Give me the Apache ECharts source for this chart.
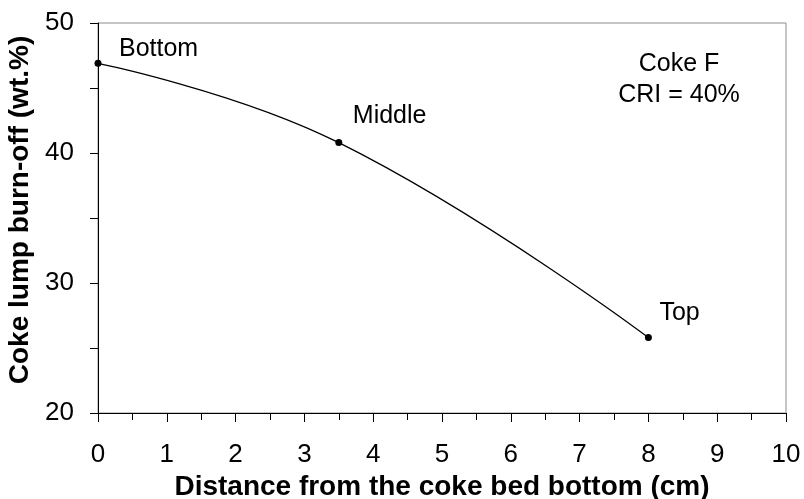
<!DOCTYPE html>
<html>
<head>
<meta charset="utf-8">
<script src="https://cdn.jsdelivr.net/npm/echarts@6/dist/echarts.min.js"></script>
<style>
  html, body { margin: 0; padding: 0; background: #fff; }
  #chart { width: 804px; height: 499px; }
</style>
</head>
<body>
<div id="chart"></div>
<script>
// Burn-off of coke lumps along the bed height
const distances = [0, 3.5, 8];            // cm from bed bottom
const burnOff = [46.9, 40.8, 25.8];       // wt.%
const positions = ['Bottom', 'Middle', 'Top'];
const xTicks = { min: 0, max: 10, interval: 1 };
const yTicks = { min: 20, max: 50, interval: 10 };
const noteLines = ['Coke F', 'CRI = 40%'];

const FONT = '"Liberation Sans", Arial, sans-serif';

// pixel offsets of each position label from its point
const labelOffsets = [[21, -14], [14, -26], [11, -24]];

const chart = echarts.init(document.getElementById('chart'), null, { renderer: 'canvas' });

chart.setOption({
  animation: false,
  backgroundColor: '#fff',
  grid: {
    left: 98, right: 18, top: 23, bottom: 86,
    outerBoundsMode: 'none',
    containLabel: false,
    show: true, borderColor: '#8c8c8c', borderWidth: 1, backgroundColor: 'transparent'
  },
  xAxis: {
    type: 'value',
    min: xTicks.min, max: xTicks.max, interval: xTicks.interval,
    name: 'Distance from the coke bed bottom (cm)',
    nameLocation: 'middle', nameGap: 60,
    nameTextStyle: { fontFamily: FONT, fontSize: 28, fontWeight: 'bold', color: '#000' },
    axisLine: { show: true, onZero: false, lineStyle: { color: '#000', width: 1 } },
    axisTick: { show: true, length: 9, lineStyle: { color: '#000' } },
    minorTick: { show: true, splitNumber: 2, length: 7, lineStyle: { color: '#000' } },
    splitLine: { show: false },
    axisLabel: { fontFamily: FONT, fontSize: 26, color: '#000', margin: 29 }
  },
  yAxis: {
    type: 'value',
    min: yTicks.min, max: yTicks.max, interval: yTicks.interval,
    name: 'Coke lump burn-off (wt.%)',
    nameLocation: 'middle', nameGap: 59, nameRotate: 90,
    nameTextStyle: { fontFamily: FONT, fontSize: 28, fontWeight: 'bold', color: '#000', padding: [0, 0, 0, 16] },
    axisLine: { show: true, onZero: false, lineStyle: { color: '#000', width: 1 } },
    axisTick: { show: true, length: 8, lineStyle: { color: '#000' } },
    minorTick: { show: true, splitNumber: 2, length: 8, lineStyle: { color: '#000' } },
    splitLine: { show: false },
    axisLabel: { fontFamily: FONT, fontSize: 26, color: '#000', margin: 24 }
  },
  series: [{
    type: 'line',
    smooth: 0.45,
    symbol: 'circle',
    symbolSize: 7,
    lineStyle: { color: '#000', width: 1.3 },
    itemStyle: { color: '#000' },
    data: distances.map((d, i) => ({
      value: [d, burnOff[i]],
      label: {
        show: true,
        formatter: positions[i],
        position: 'inside',
        offset: labelOffsets[i],
        align: 'left',
        fontFamily: FONT, fontSize: 25, color: '#000'
      }
    }))
  }],
  graphic: [{
    type: 'text',
    x: 679,
    // vertical centre of the two-line block sits between the lines
    y: 80,
    style: {
      text: noteLines.join('\n'),
      align: 'center', verticalAlign: 'middle',
      font: '25px "Liberation Sans", Arial, sans-serif',
      lineHeight: 31, fill: '#000'
    }
  }]
});
</script>
</body>
</html>
